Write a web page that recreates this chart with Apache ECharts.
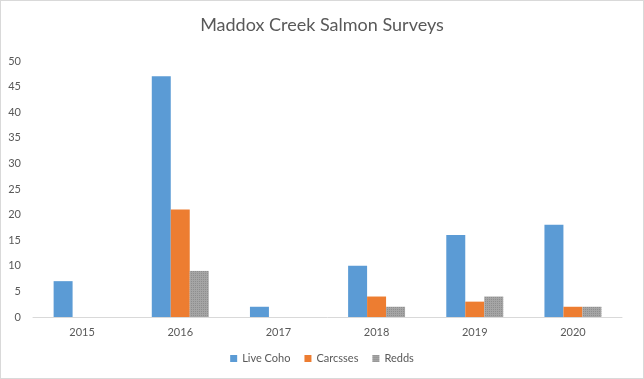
<!DOCTYPE html>
<html><head><meta charset="utf-8">
<script src="https://cdn.jsdelivr.net/npm/echarts@6/dist/echarts.min.js"></script>
<style>html,body{margin:0;padding:0;background:#fff}#c{width:642px;height:377px;border:1px solid #d9d9d9}</style>
</head><body><div id="c"></div>
<script>
var categories = ['2015','2016','2017','2018','2019','2020'];
var liveCoho = [7,47,2,10,16,18];
var carcasses = [0,21,0,4,3,2];
var redds = [0,9,0,2,4,2];
var yTicks = {min:0, max:50, interval:5};
var font = 'Lato, "Open Sans", sans-serif';
var chart = echarts.init(document.getElementById('c'));
chart.setOption({
  animation:false,
  textStyle:{fontFamily:font},
  title:{text:'Maddox Creek Salmon Surveys',left:'center',top:10,textStyle:{fontFamily:font,fontSize:18,fontWeight:'normal',color:'#595959'}},
  legend:{bottom:9,left:'center',itemWidth:7,itemHeight:7,itemGap:14,icon:'rect',textStyle:{fontFamily:font,fontSize:11,color:'#595959'},
    data:['Live Coho','Carcsses','Redds']},
  grid:{left:32,right:21,top:60,bottom:61},
  xAxis:{type:'category',data:categories,axisLine:{lineStyle:{color:'#d9d9d9'}},axisTick:{show:false},
    axisLabel:{color:'#595959',fontSize:11,margin:10,fontFamily:font}},
  yAxis:{type:'value',min:yTicks.min,max:yTicks.max,interval:yTicks.interval,splitLine:{show:false},axisLine:{show:false},axisTick:{show:false},
    axisLabel:{color:'#595959',fontSize:11,margin:12,fontFamily:font}},
  series:[
    {name:'Live Coho',type:'bar',data:liveCoho,barGap:'0%',barCategoryGap:'42%',itemStyle:{color:'#5b9bd5'}},
    {name:'Carcsses',type:'bar',data:carcasses,itemStyle:{color:'#ed7d31'}},
    {name:'Redds',type:'bar',data:redds,itemStyle:{color:'#a5a5a5',decal:{symbol:'rect',symbolSize:1,dashArrayX:[1,1],dashArrayY:[1,1],color:'rgba(120,120,120,0.5)'}}}
  ]
});
</script></body></html>
